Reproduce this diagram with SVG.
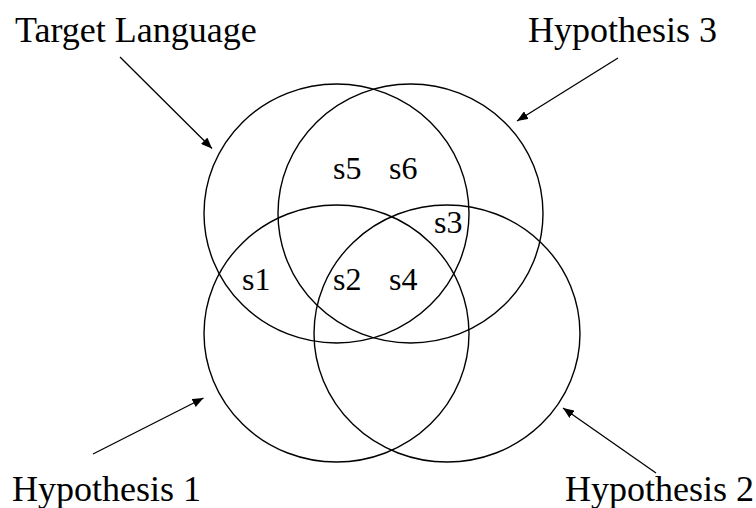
<svg xmlns="http://www.w3.org/2000/svg" width="756" height="508" viewBox="0 0 756 508">
  <style>
    .set { fill: none; stroke: #000; stroke-width: 1.4; }
    .title { font-family: "Liberation Serif", "Times New Roman", serif; font-size: 36px; fill: #000; }
    .region { font-family: "Liberation Serif", "Times New Roman", serif; font-size: 32px; fill: #000; }
    .conn { stroke: #000; stroke-width: 1.3; fill: none; marker-end: url(#arrow); }
  </style>
  <defs>
    <marker id="arrow" markerUnits="userSpaceOnUse" markerWidth="11" markerHeight="9" refX="11" refY="4.5" orient="auto">
      <path d="M0,0 L11,4.5 L0,9 z" fill="#000"/>
    </marker>
  </defs>
  <rect width="756" height="508" fill="#fff"/>

  <g id="target-language">
    <ellipse class="set" cx="336.5" cy="213.5" rx="132.5" ry="129.5"/>
    <text class="title" x="15" y="42">Target Language</text>
  </g>
  <g id="hypothesis-3">
    <ellipse class="set" cx="410.5" cy="213.5" rx="132.5" ry="129.5"/>
    <text class="title" x="528" y="42">Hypothesis 3</text>
  </g>
  <g id="hypothesis-1">
    <ellipse class="set" cx="336.5" cy="333.5" rx="132.5" ry="128.5"/>
    <text class="title" x="12" y="501">Hypothesis 1</text>
  </g>
  <g id="hypothesis-2">
    <ellipse class="set" cx="447" cy="333.5" rx="133" ry="128.5"/>
    <text class="title" x="565" y="501">Hypothesis 2</text>
  </g>

  <g id="regions">
    <text class="region" x="333" y="179">s5</text>
    <text class="region" x="389" y="179">s6</text>
    <text class="region" x="434" y="233">s3</text>
    <text class="region" x="242" y="290">s1</text>
    <text class="region" x="333" y="290">s2</text>
    <text class="region" x="389" y="290">s4</text>
  </g>

  <g id="connectors">
    <line class="conn" x1="120" y1="57" x2="212" y2="148.5"/>
    <line class="conn" x1="618" y1="58" x2="517" y2="121"/>
    <line class="conn" x1="93" y1="454" x2="203.5" y2="398"/>
    <line class="conn" x1="656" y1="473" x2="563" y2="408"/>
  </g>
</svg>
